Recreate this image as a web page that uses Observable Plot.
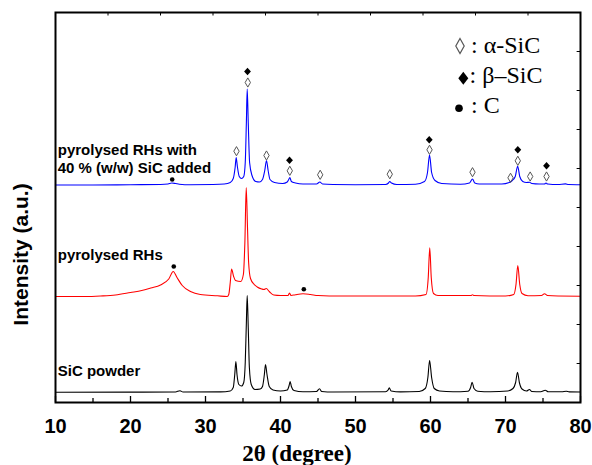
<!DOCTYPE html>
<html><head><meta charset="utf-8">
<script src="https://cdn.jsdelivr.net/npm/d3@7"></script>
<script src="https://cdn.jsdelivr.net/npm/@observablehq/plot@0.6"></script>
<style>
html,body{margin:0;padding:0;background:#fff;}
#wrap{position:relative;width:592px;height:465px;}
</style></head>
<body><div id="wrap"><div id="chart"></div></div>
<script>
// ---- data (2θ in degrees, intensity in arbitrary units with vertical offsets) ----
const xMajor = [10, 20, 30, 40, 50, 60, 70, 80];
const xMinor = [15, 25, 35, 45, 55, 65, 75];
const xTopTicks = [17, 24, 31, 38, 45, 52, 59, 66, 73];
const yTicks = [39, 78, 117, 156, 195, 234, 273, 312, 351];

const sampleNames = ["SiC powder", "pyrolysed RHs", "pyrolysed RHs with\n40 % (w/w) SiC added"];
const sampleColors = ["#000000", "#ff0000", "#0000ff"];

const black = [[10,10.3],[20,10.4],[26,10.5],[26.6,11.8],[27,10.5],[32,10.6],[33.3,11.5],[33.7,15],[33.9,28],[34.05,41],[34.2,28],[34.45,18],[34.8,16.5],[35.1,20],[35.3,40],[35.45,80],[35.56,107],[35.7,75],[35.85,35],[36.1,18],[36.6,13],[37.3,13.5],[37.6,16],[37.85,28],[38.0,38],[38.2,28],[38.5,16],[39,12.5],[40,11.5],[40.9,12.5],[41.15,17],[41.28,21],[41.45,16],[41.8,12],[43,10.8],[44.8,11],[45.2,13.7],[45.5,11],[47,10.5],[54,10.8],[54.35,12.5],[54.5,14.7],[54.75,11.5],[56,10.6],[58.5,11],[59.3,14],[59.65,25],[59.88,42],[60.15,25],[60.5,14],[61.2,11.5],[63,10.7],[65,11.2],[65.35,15],[65.55,20.3],[65.8,14],[66.3,11.3],[68,10.7],[70.3,11.5],[71,14],[71.35,20],[71.6,30.3],[71.85,20],[72.2,13.5],[72.8,11.5],[73.2,13],[73.5,11],[74.7,10.8],[75.3,12.3],[75.7,10.8],[77.5,10.7],[78.1,11.3],[78.5,10.6],[80,10.5]];

const red = [[10,106],[14,106],[16,106.5],[18,107.5],[20,110],[21.5,112],[22.7,114.5],[24,117.5],[25.1,123.5],[25.7,131],[26.2,125],[26.9,117],[28,111],[29.3,108],[31.6,106.7],[32.9,106],[33.1,108],[33.3,120],[33.48,133.5],[33.75,126],[34.0,122],[34.7,121],[35.05,128],[35.25,160],[35.43,215],[35.6,175],[35.75,140],[36,124],[36.5,118],[36.9,115.5],[37.5,113.5],[37.8,113],[38.1,114],[38.5,111],[39.1,107.5],[40,107],[41,107],[41.2,109.5],[41.4,107],[42,107.8],[43,108.7],[44,108],[45,107],[48,106.5],[55,106.5],[58,106.5],[59.4,108],[59.7,125],[59.9,154.7],[60.1,125],[60.4,109],[61,107],[65.4,107],[65.6,107.8],[65.8,107],[70,106.5],[71.1,108],[71.4,118],[71.64,137],[71.9,118],[72.2,109],[73,106.8],[74.8,107],[75.2,108.7],[75.6,107],[77,106.5],[80,106.3]];

const blue = [[10,217.5],[15,217.5],[20,217.8],[24,218],[25,218.5],[25.5,219.5],[26,219],[26.5,218.3],[28,217.8],[31,218],[32.5,218.5],[33.3,220],[33.7,224],[33.95,235],[34.09,245],[34.25,236],[34.5,226],[34.8,224],[35.1,226],[35.3,240],[35.45,280],[35.56,313.5],[35.7,280],[35.88,240],[36.2,227],[36.7,221],[37.2,220.5],[37.6,223],[37.9,232],[38.13,242],[38.35,232],[38.6,223],[39.2,220],[40.3,219],[40.9,220.5],[41.1,223],[41.24,225],[41.45,221],[42,219.5],[43,218.5],[44.8,218.5],[45.25,220.5],[45.6,218.5],[47,218],[50,217.8],[54,218],[54.4,219.5],[54.57,221],[54.8,219.5],[55.5,218],[58,218.3],[59.2,221],[59.6,230],[59.87,247.5],[60.15,230],[60.6,222],[61.5,219],[64,218.3],[65.2,219.5],[65.6,223.5],[65.9,219.5],[66.5,218.5],[69.5,218.5],[70.5,220],[70.9,222],[71.3,226],[71.62,236.3],[71.9,226],[72.3,221],[72.8,220],[73.2,220.2],[73.5,219],[74.5,218.5],[75.2,218.5],[75.4,219.5],[75.6,218.5],[77,218],[78,218.6],[78.4,218],[80,217.8]];

// phase markers
const alphaX = [34.13, 35.64, 38.13, 41.24, 45.29, 54.57, 59.87, 65.6, 70.67, 71.64, 73.29, 75.47];
const alphaY = [251.3, 320, 247, 231.7, 227.7, 228.3, 252.7, 230.3, 224.7, 241.7, 226, 226];
const betaX = [35.6, 41.2, 59.83, 71.64, 75.47];
const betaY = [331, 242.3, 262.7, 252.7, 236.7];
const carbonX = [25.56, 25.77, 43.11];
const carbonY = [223, 136, 113.3];

const legendLabels = [": \u03b1-SiC", ": \u03b2\u2013SiC", ": C"];

// ---- symbols ----
const lozenge = {draw(ctx, size) { const r = Math.sqrt(size / Math.PI); ctx.moveTo(0, -r); ctx.lineTo(r * 0.58, 0); ctx.lineTo(0, r); ctx.lineTo(-r * 0.58, 0); ctx.closePath(); }};
const diamond = {draw(ctx, size) { const r = Math.sqrt(size / Math.PI); ctx.moveTo(0, -r); ctx.lineTo(r * 0.9, 0); ctx.lineTo(0, r); ctx.lineTo(-r * 0.9, 0); ctx.closePath(); }};

const P = d => d[0], I = d => d[1];
const sans = "'Liberation Sans', Arial, Helvetica, sans-serif";
const serif = "'Liberation Serif', 'Times New Roman', serif";

const chart = Plot.plot({
  width: 592, height: 465,
  marginLeft: 55, marginRight: 12, marginTop: 12, marginBottom: 63,
  style: {fontFamily: sans, background: "#fff", color: "#000"},
  x: {domain: [10, 80]},
  y: {domain: [0, 390], axis: null},
  marks: [
    // ticks (inside)
    Plot.ruleX(xMajor, {y1: 0, y2: 6, stroke: "#000", strokeWidth: 1.3}),
    Plot.ruleX(xMinor, {y1: 0, y2: 4, stroke: "#000", strokeWidth: 1.3}),
    Plot.ruleX(xTopTicks, {y1: 390, y2: 386.5, stroke: "#000", strokeWidth: 1}),
    Plot.ruleY(yTicks, {x1: 80, x2: 79.55, stroke: "#000", strokeWidth: 1}),
    Plot.axisX({ticks: xMajor, tickSize: 0, tickPadding: 16, fontSize: 20, fontWeight: "bold", label: null, tickFormat: d => String(d)}),
    // patterns
    Plot.line(black, {x: P, y: I, stroke: sampleColors[0], strokeWidth: 1.1, curve: "monotone-x"}),
    Plot.line(red, {x: P, y: I, stroke: sampleColors[1], strokeWidth: 1.1, curve: "monotone-x"}),
    Plot.line(blue, {x: P, y: I, stroke: sampleColors[2], strokeWidth: 1.1, curve: "monotone-x"}),
    // phase markers
    Plot.dot(alphaX, {x: d => d, y: (d, i) => alphaY[i], symbol: lozenge, r: 4.6, stroke: "#555", strokeWidth: 1, fill: "none"}),
    Plot.dot(betaX, {x: d => d, y: (d, i) => betaY[i], symbol: diamond, r: 3.8, fill: "#000", stroke: "none"}),
    Plot.dot(carbonX, {x: d => d, y: (d, i) => carbonY[i], r: 2.3, fill: "#000", stroke: "none"}),
    // sample labels
    Plot.text(sampleNames, {x: () => 10.3, y: (d, i) => [39.3, 155, 260][i], text: d => d, textAnchor: "start", lineAnchor: "top", fontSize: 15, fontWeight: "bold", lineHeight: 1.2, fill: "#000"}),
    // axis titles
    Plot.text(["Intensity (a.u.)"], {frameAnchor: "left", rotate: -90, dx: -34, dy: 47, fontSize: 21, fontWeight: "bold", textAnchor: "middle", lineAnchor: "middle", fill: "#000"}),
    Plot.text(["2\u03b8 (degree)"], {frameAnchor: "bottom", dx: -21, dy: 51, fontSize: 23, fontWeight: "bold", fontFamily: serif, textAnchor: "middle", lineAnchor: "middle", fill: "#000"}),
    Plot.frame({stroke: "#000", strokeWidth: 2})
  ]
});
document.getElementById("chart").appendChild(chart);

// ---- legend overlay ----
const lg = d3.select("#wrap").append("svg")
  .attr("width", 592).attr("height", 465)
  .style("position", "absolute").style("left", "0px").style("top", "0px").style("pointer-events", "none");
lg.append("path").attr("d", "M460,38.5L464.2,46L460,53.5L455.8,46Z").attr("fill", "none").attr("stroke", "#555").attr("stroke-width", 1.2);
lg.append("path").attr("d", "M463.3,71.8L468.3,78.3L463.3,84.8L458.3,78.3Z").attr("fill", "#000");
lg.append("circle").attr("cx", 459).attr("cy", 108.3).attr("r", 3.8).attr("fill", "#000");
const lx = [471, 469.5, 471], ly = [53, 83.3, 113.3];
lg.selectAll("text.lg").data(legendLabels).join("text")
  .attr("x", (d, i) => lx[i]).attr("y", (d, i) => ly[i])
  .attr("font-family", serif).attr("font-size", 24).attr("fill", "#000")
  .text(d => d);
</script>
</body></html>
